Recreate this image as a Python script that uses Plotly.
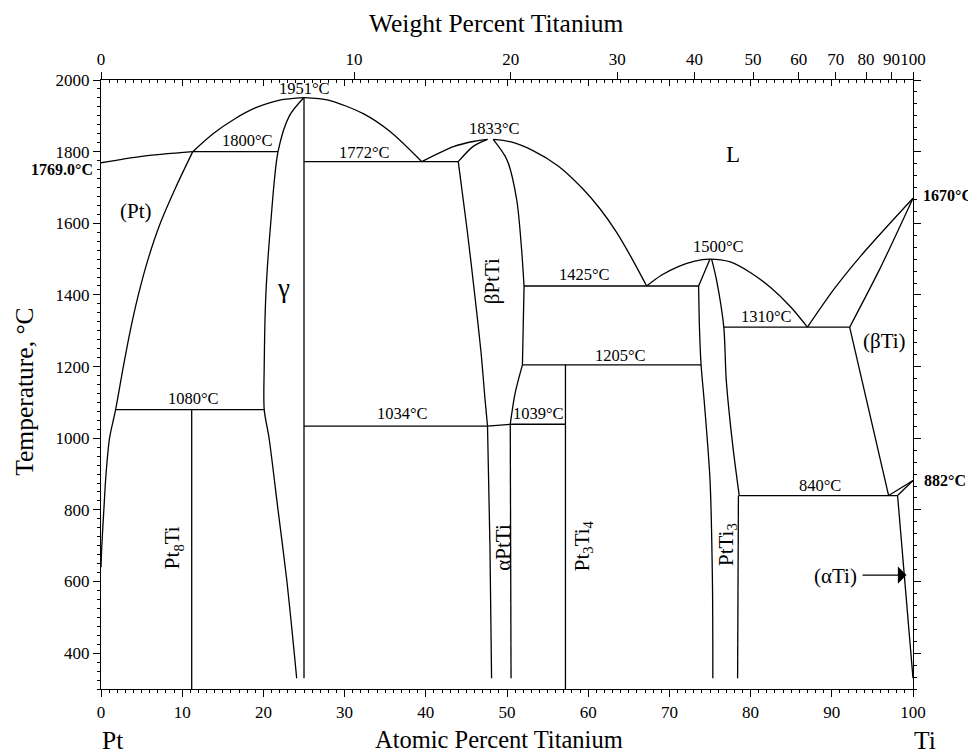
import plotly.graph_objects as go

# ---------------- data ----------------
# Liquidus branches
liq_pt_x = [0, 5, 11.3]
liq_pt_T = [1769, 1787, 1800]
liq_a_x = [11.3, 13.8, 16.5, 19, 22, 25]
liq_a_T = [1800, 1850, 1892, 1922, 1944, 1951]
liq_b_x = [25, 28, 32.3, 35.6, 39.5]
liq_b_T = [1951, 1944, 1906, 1856, 1772]
liq_c_x = [39.5, 43.4, 46.0, 47.6]
liq_c_T = [1772, 1814, 1829, 1834]
liq_d_x = [48.3, 50.5, 53.2, 56.3, 59.3, 61.4, 63.4, 65.3, 67.2]
liq_d_T = [1834, 1827, 1803, 1760, 1697, 1642, 1578, 1505, 1425]
liq_e_x = [67.2, 69.0, 71.1, 73.0, 75.0, 77.5, 80.0, 82.5, 85.0, 87.0]
liq_e_T = [1425, 1455, 1479, 1494, 1500, 1492, 1462, 1420, 1365, 1310]
liq_f_x = [87.0, 90.2, 93.5, 96.8, 100]
liq_f_T = [1310, 1414, 1507, 1591, 1670]
# (beta Ti) solidus / solvus
bti_sol_x = [92.2, 95.9, 100]
bti_sol_T = [1310, 1472, 1670]
bti_solv_x = [92.2, 97.0]
bti_solv_T = [1310, 840]
ti882_a_x = [97.0, 100]
ti882_a_T = [840, 882]
ti882_b_x = [98.1, 100]
ti882_b_T = [840, 882]
ati_x = [98.1, 100]
ati_T = [840, 330]
# (Pt) solvus
pt_solv_x = [11.3, 9.2, 7.3, 5.8, 4.6, 3.6, 2.75, 1.8, 1.05, 0.62, 0.35, 0.1, 0]
pt_solv_T = [1800, 1700, 1600, 1500, 1400, 1300, 1200, 1080, 1000, 900, 800, 700, 640]
# gamma (Pt3Ti)
gam_l_x = [25, 23.2, 21.8, 20.9, 20.3, 20.1, 20.1, 20.7, 21.8, 22.9, 23.8, 24.1]
gam_l_T = [1951, 1900, 1800, 1600, 1400, 1200, 1080, 1000, 800, 600, 400, 330]
gam_r_x = [25, 25]
gam_r_T = [1951, 330]
# Pt8Ti
pt8_x = [11.17, 11.17]
pt8_T = [1080, 300]
# beta PtTi
bpt_l_top_x = [47.6, 45.8, 44.0]
bpt_l_top_T = [1834, 1814, 1772]
bpt_l_x = [44.0, 45.1, 46.1, 46.8, 47.3, 47.6]
bpt_l_T = [1772, 1580, 1386, 1240, 1107, 1034]
bpt_r_x = [48.3, 50.0, 51.2, 51.8, 52.1]
bpt_r_T = [1834, 1777, 1665, 1526, 1425]
bpt_r_mid_x = [52.1, 51.9]
bpt_r_mid_T = [1425, 1205]
bpt_r_low_x = [51.9, 51.0, 50.4]
bpt_r_low_T = [1205, 1126, 1039]
# alpha PtTi
apt_l_x = [47.6, 47.9, 48.1]
apt_l_T = [1034, 700, 330]
apt_r_x = [50.4, 50.5]
apt_r_T = [1039, 330]
apt_tie_x = [47.6, 50.4]
apt_tie_T = [1034, 1039]
# Pt3Ti4
pt34_x = [57.2, 57.2]
pt34_T = [1205, 300]
# PtTi3
ptti3_l_top_x = [75.0, 73.6]
ptti3_l_top_T = [1500, 1425]
ptti3_l_x = [73.6, 73.7, 73.9, 74.3, 75.0, 75.3, 75.35]
ptti3_l_T = [1425, 1310, 1205, 1100, 884, 600, 330]
ptti3_r_x = [75.2, 75.8, 76.7, 77.0, 77.8, 78.6]
ptti3_r_T = [1500, 1442, 1310, 1163, 980, 840]
ptti3_r_low_x = [78.5, 78.4]
ptti3_r_low_T = [840, 330]
# invariant (horizontal) lines
iso_1800_x = [11.3, 21.8]
iso_1772_x = [25, 44.0]
iso_1425_x = [52.1, 73.6]
iso_1205_x = [51.9, 73.9]
iso_1080_x = [1.8, 20.1]
iso_1034_x = [25, 47.6]
iso_1039_x = [50.4, 57.2]
iso_1310_x = [76.7, 92.2]
iso_840_x = [78.6, 98.1]

# temperature labels
temp_labels = ["1951°C", "1800°C", "1772°C", "1833°C", "1425°C", "1205°C",
               "1034°C", "1039°C", "1080°C", "1500°C", "1310°C", "840°C"]
temp_label_x = [25.0, 18.0, 32.4, 48.5, 59.6, 64.0, 37.1, 53.9, 11.4, 76.0, 81.9, 88.6]
temp_label_T = [1975, 1830, 1798, 1866, 1456, 1230, 1068, 1068, 1110, 1535, 1340, 867]

# phase labels (horizontal)
phase_labels = ["L", "(Pt)", "γ", "(βTi)", "(αTi)"]
phase_x = [77.8, 4.3, 22.5, 96.5, 90.4]
phase_T = [1792, 1634, 1420, 1272, 616]
phase_size = [23, 21, 27, 21, 21]
# phase labels (vertical)
vphase_labels = ["βPtTi", "Pt<sub>8</sub>Ti", "αPtTi", "Pt<sub>3</sub>Ti<sub>4</sub>", "PtTi<sub>3</sub>"]
vphase_x = [48.1, 8.9, 49.5, 59.3, 77.1]
vphase_T = [1437, 694, 697, 700, 702]

# axis ticks
at_ticks = [0, 10, 20, 30, 40, 50, 60, 70, 80, 90, 100]
wt_ticks = [0, 10, 20, 30, 40, 50, 60, 70, 80, 90, 100]
T_ticks = [400, 600, 800, 1000, 1200, 1400, 1600, 1800, 2000]
M_PT, M_TI = 195.08, 47.867

# pure-element temperatures
pt_melt = 1769.0
ti_melt = 1670
ti_trans = 882


def wt_to_at(w):
    if w <= 0:
        return 0.0
    if w >= 100:
        return 100.0
    a = w / M_TI
    b = (100 - w) / M_PT
    return 100 * a / (a + b)


SERIF = "Liberation Serif, Times New Roman, serif"
LW = 1.3

fig = go.Figure()

curves = [
    (liq_pt_x, liq_pt_T, "spline"), (liq_a_x, liq_a_T, "spline"), (liq_b_x, liq_b_T, "spline"),
    (liq_c_x, liq_c_T, "spline"), (liq_d_x, liq_d_T, "spline"), (liq_e_x, liq_e_T, "spline"),
    (liq_f_x, liq_f_T, "spline"), (bti_sol_x, bti_sol_T, "spline"), (bti_solv_x, bti_solv_T, "linear"),
    (ti882_a_x, ti882_a_T, "linear"), (ti882_b_x, ti882_b_T, "linear"), (ati_x, ati_T, "linear"),
    (pt_solv_x, pt_solv_T, "spline"), (gam_l_x, gam_l_T, "spline"), (gam_r_x, gam_r_T, "linear"),
    (pt8_x, pt8_T, "linear"), (bpt_l_top_x, bpt_l_top_T, "spline"), (bpt_l_x, bpt_l_T, "spline"),
    (bpt_r_x, bpt_r_T, "spline"), (bpt_r_mid_x, bpt_r_mid_T, "linear"), (bpt_r_low_x, bpt_r_low_T, "spline"),
    (apt_l_x, apt_l_T, "spline"), (apt_r_x, apt_r_T, "linear"), (apt_tie_x, apt_tie_T, "linear"),
    (pt34_x, pt34_T, "linear"), (ptti3_l_top_x, ptti3_l_top_T, "linear"), (ptti3_l_x, ptti3_l_T, "spline"),
    (ptti3_r_x, ptti3_r_T, "spline"), (ptti3_r_low_x, ptti3_r_low_T, "linear"),
    (iso_1800_x, [1800, 1800], "linear"), (iso_1772_x, [1772, 1772], "linear"),
    (iso_1425_x, [1425, 1425], "linear"), (iso_1205_x, [1205, 1205], "linear"),
    (iso_1080_x, [1080, 1080], "linear"), (iso_1034_x, [1034, 1034], "linear"),
    (iso_1039_x, [1039, 1039], "linear"), (iso_1310_x, [1310, 1310], "linear"),
    (iso_840_x, [840, 840], "linear"),
]
for xs, ts, shp in curves:
    line = dict(color="black", width=LW, shape=shp)
    if shp == "spline":
        line["smoothing"] = 0.8
    fig.add_trace(go.Scatter(x=xs, y=ts, mode="lines", line=line,
                             hoverinfo="skip", showlegend=False, cliponaxis=False))

# dummy traces to activate secondary axes
fig.add_trace(go.Scatter(x=[0, 100], y=[300, 2000], xaxis="x2", yaxis="y", mode="markers",
                         marker=dict(opacity=0), hoverinfo="skip", showlegend=False))
fig.add_trace(go.Scatter(x=[0, 100], y=[300, 2000], xaxis="x3", yaxis="y2", mode="markers",
                         marker=dict(opacity=0), hoverinfo="skip", showlegend=False))

ann = []
for t, x, T in zip(temp_labels, temp_label_x, temp_label_T):
    ann.append(dict(x=x, y=T, xref="x", yref="y", text=t, showarrow=False,
                    xanchor="center", yanchor="middle",
                    font=dict(family=SERIF, size=16.5, color="black")))
for t, x, T, s in zip(phase_labels, phase_x, phase_T, phase_size):
    ann.append(dict(x=x, y=T, xref="x", yref="y", text=t, showarrow=False,
                    xanchor="center", yanchor="middle",
                    font=dict(family=SERIF, size=s, color="black")))
for t, x, T in zip(vphase_labels, vphase_x, vphase_T):
    ann.append(dict(x=x, y=T, xref="x", yref="y", text=t, showarrow=False, textangle=-90,
                    xanchor="center", yanchor="middle",
                    font=dict(family=SERIF, size=21, color="black")))
# arrow for (alpha Ti)
ann.append(dict(x=99.2, y=618, ax=93.6, ay=618, xref="x", yref="y", axref="x", ayref="y",
                text="", showarrow=True, arrowhead=1, arrowsize=2.4, arrowwidth=1.2,
                arrowcolor="black"))
# bold element temperatures
ann.append(dict(x=-0.007, y=pt_melt - 20, xref="paper", yref="y", xanchor="right", yanchor="middle",
                text="<b>%.1f°C</b>" % pt_melt, showarrow=False,
                font=dict(family=SERIF, size=16, color="black")))
ann.append(dict(x=1.010, y=ti_melt + 7, xref="paper", yref="y", xanchor="left", yanchor="middle",
                text="<b>%d°C</b>" % ti_melt, showarrow=False,
                font=dict(family=SERIF, size=16, color="black")))
ann.append(dict(x=1.011, y=ti_trans, xref="paper", yref="y", xanchor="left", yanchor="middle",
                text="<b>%d°C</b>" % ti_trans, showarrow=False,
                font=dict(family=SERIF, size=16, color="black")))
# axis titles and element names
title_font = dict(family=SERIF, size=25.5, color="black")
ann.append(dict(x=0.49, y=-0.0835, xref="paper", yref="paper", text="Atomic Percent Titanium",
                xanchor="center", yanchor="middle", showarrow=False,
                font=dict(family=SERIF, size=24.5, color="black")))
ann.append(dict(x=0.4875, y=1.092, xref="paper", yref="paper", text="Weight Percent Titanium",
                xanchor="center", yanchor="middle", showarrow=False, font=title_font))
ann.append(dict(x=-0.0936, y=0.488, xref="paper", yref="paper", text="Temperature, °C",
                xanchor="center", yanchor="middle", textangle=-90, showarrow=False, font=title_font))
ann.append(dict(x=0.0142, y=-0.0845, xref="paper", yref="paper", text="Pt",
                xanchor="center", yanchor="middle", showarrow=False, font=title_font))
ann.append(dict(x=1.0144, y=-0.0845, xref="paper", yref="paper", text="Ti",
                xanchor="center", yanchor="middle", showarrow=False, font=title_font))

tickfont = dict(family=SERIF, size=17, color="black")
fig.update_layout(
    width=976, height=754,
    # the page body adds an 8 px offset, compensated here
    margin=dict(l=93, r=71, t=72, b=73, autoexpand=False),
    paper_bgcolor="white", plot_bgcolor="white",
    showlegend=False,
    annotations=ann,
    xaxis=dict(range=[0, 100], tickmode="array", tickvals=at_ticks, ticktext=[str(v) for v in at_ticks],
               ticks="outside", ticklen=7, tickwidth=1.2, tickcolor="black", tickangle=0, automargin=False,
               minor=dict(ticks="outside", dtick=1, tick0=0, ticklen=3, tickwidth=1, tickcolor="black", showgrid=False),
               showline=True, linecolor="black", linewidth=1.3, showgrid=False, zeroline=False,
               tickfont=tickfont, fixedrange=True),
    xaxis2=dict(range=[0, 100], overlaying="x", side="top", tickmode="array",
                tickvals=[wt_to_at(w) for w in wt_ticks], ticktext=[str(w) for w in wt_ticks],
                ticks="outside", ticklen=7, tickwidth=1.2, tickcolor="black", tickangle=0, automargin=False,
                showline=False, showgrid=False, zeroline=False, tickfont=tickfont, fixedrange=True),
    xaxis3=dict(range=[0, 100], overlaying="x", side="top", tickmode="linear", dtick=10, tick0=0,
                ticks="inside", ticklen=6, tickwidth=1.2, tickcolor="black", automargin=False,
                minor=dict(ticks="inside", dtick=1, tick0=0, ticklen=3, tickwidth=1, tickcolor="black", showgrid=False),
                showticklabels=False, showline=True, linecolor="black", linewidth=1.3,
                showgrid=False, zeroline=False, fixedrange=True),
    yaxis=dict(range=[300, 2000], tickmode="array", tickvals=T_ticks, ticktext=[str(v) for v in T_ticks],
               ticks="outside", ticklen=7, tickwidth=1.2, tickcolor="black", automargin=False,
               minor=dict(ticks="outside", dtick=25, tick0=0, ticklen=3, tickwidth=1, tickcolor="black", showgrid=False),
               showline=True, linecolor="black", linewidth=1.3, showgrid=False, zeroline=False,
               tickfont=tickfont, fixedrange=True),
    yaxis2=dict(range=[300, 2000], overlaying="y", side="right", tickmode="linear", dtick=200, tick0=0,
                ticks="outside", ticklen=7, tickwidth=1.2, tickcolor="black", automargin=False,
                minor=dict(ticks="outside", dtick=200 / 6, tick0=0, ticklen=3, tickwidth=1, tickcolor="black", showgrid=False),
                showticklabels=False, showline=True, linecolor="black", linewidth=1.3,
                showgrid=False, zeroline=False, fixedrange=True),
)

fig.write_html("out.html")
